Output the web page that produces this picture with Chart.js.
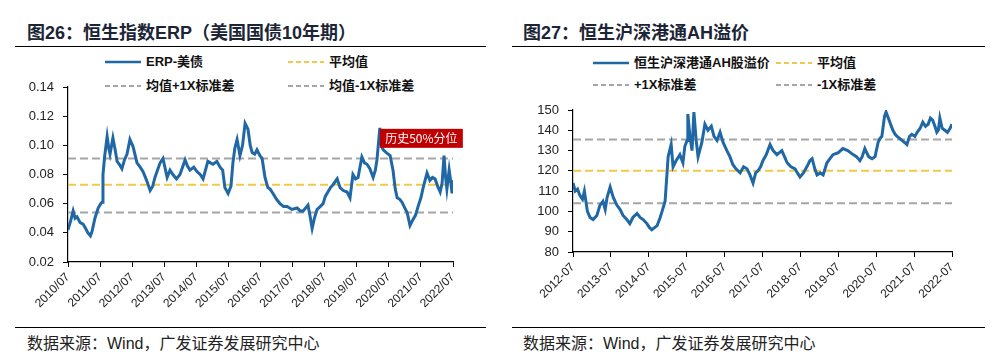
<!DOCTYPE html>
<html lang="zh-CN">
<head>
<meta charset="UTF-8">
<title>恒生指数ERP与AH溢价</title>
<script src="https://cdn.jsdelivr.net/npm/chart.js"></script>
<style>
  body { margin: 0; width: 994px; height: 362px; background: #fff; position: relative; overflow: hidden;
         font-family: "Liberation Sans", Arial, "Noto Sans CJK SC", sans-serif; }
  .title { position: absolute; top: 21px; line-height: 24px; font-size: 18px; font-weight: bold; color: #1c2536; white-space: nowrap; }
  .rule { position: absolute; height: 0; border-top: 1.5px solid #000; }
  .lg { position: absolute; line-height: 16px; font-size: 13px; font-weight: bold; color: #111; white-space: nowrap; }
  .lg svg { vertical-align: middle; margin-right: 5px; position: relative; top: -1px; }
  .src { position: absolute; top: 335px; line-height: 18px; font-size: 16px; color: #222; white-space: nowrap; }
  canvas { position: absolute; top: 60px; }
</style>
</head>
<body>

<div class="title" style="left:27px">图26：恒生指数ERP（美国国债10年期）</div>
<div class="rule" style="left:15px; top:46px; width:471px"></div>
<div class="title" style="left:523px">图27：恒生沪深港通AH溢价</div>
<div class="rule" style="left:512px; top:46px; width:473px"></div>

<div id="legendLeft"></div>
<div id="legendRight"></div>

<canvas id="chartErp" width="497" height="265" style="left:0"></canvas>
<canvas id="chartAh" width="497" height="265" style="left:497px"></canvas>

<div class="rule" style="left:15px; top:327px; width:471px"></div>
<div class="src" style="left:27px">数据来源：Wind，广发证券发展研究中心</div>
<div class="rule" style="left:512px; top:327px; width:473px"></div>
<div class="src" style="left:523px">数据来源：Wind，广发证券发展研究中心</div>

<script>
  // 图26 数据：恒生指数ERP（年份小数，7月 = .5）
  const erpDates = [
    2010.50, 2010.58, 2010.66, 2010.72, 2010.78, 2010.88, 2010.97, 2011.05, 2011.12, 2011.20,
    2011.25, 2011.34, 2011.44, 2011.52, 2011.56, 2011.59, 2011.64, 2011.72, 2011.77, 2011.81,
    2011.90, 2011.97, 2012.03, 2012.10, 2012.18, 2012.26, 2012.34, 2012.43, 2012.53, 2012.65,
    2012.75, 2012.84, 2012.95, 2013.06, 2013.14, 2013.21, 2013.37, 2013.46, 2013.59, 2013.68,
    2013.77, 2013.88, 2013.99, 2014.15, 2014.22, 2014.30, 2014.42, 2014.52, 2014.62, 2014.71,
    2014.86, 2015.02, 2015.14, 2015.24, 2015.32, 2015.39, 2015.49, 2015.58, 2015.64, 2015.70,
    2015.77, 2015.86, 2015.94, 2016.02, 2016.11, 2016.18, 2016.24, 2016.32, 2016.39, 2016.48,
    2016.55, 2016.64, 2016.73, 2016.80, 2016.89, 2017.00, 2017.11, 2017.22, 2017.33, 2017.48,
    2017.64, 2017.74, 2017.83, 2017.98, 2018.04, 2018.11, 2018.18, 2018.26, 2018.36, 2018.45,
    2018.52, 2018.60, 2018.68, 2018.76, 2018.89, 2018.98, 2019.08, 2019.20, 2019.29, 2019.38,
    2019.46, 2019.54, 2019.66, 2019.74, 2019.82, 2019.91, 2020.01, 2020.08, 2020.13, 2020.22,
    2020.27, 2020.32, 2020.42, 2020.54, 2020.63, 2020.70, 2020.76, 2020.84, 2020.91, 2021.00,
    2021.07, 2021.16, 2021.25, 2021.33, 2021.41, 2021.50, 2021.57, 2021.69, 2021.78, 2021.86,
    2021.94, 2022.02, 2022.10, 2022.16, 2022.22, 2022.27, 2022.31, 2022.38, 2022.43, 2022.47,
    2022.50
  ];
  const erpValues = [
    0.042, 0.048, 0.055, 0.050, 0.051, 0.047, 0.046, 0.043, 0.040, 0.038,
    0.041, 0.050, 0.057, 0.060, 0.061, 0.080, 0.092, 0.106, 0.098, 0.094,
    0.105, 0.097, 0.089, 0.087, 0.084, 0.090, 0.094, 0.104, 0.099, 0.088,
    0.085, 0.082, 0.076, 0.069, 0.072, 0.078, 0.088, 0.091, 0.078, 0.083,
    0.080, 0.077, 0.080, 0.090, 0.086, 0.083, 0.085, 0.082, 0.080, 0.077,
    0.089, 0.087, 0.089, 0.085, 0.083, 0.071, 0.067, 0.072, 0.088, 0.098,
    0.104, 0.093, 0.100, 0.115, 0.111, 0.100, 0.095, 0.094, 0.097, 0.093,
    0.091, 0.078, 0.071, 0.070, 0.067, 0.063, 0.060, 0.058, 0.058, 0.056,
    0.057, 0.055, 0.055, 0.059, 0.052, 0.043, 0.050, 0.056, 0.058, 0.060,
    0.065, 0.068, 0.071, 0.073, 0.077, 0.071, 0.069, 0.068, 0.064, 0.080,
    0.077, 0.078, 0.092, 0.088, 0.087, 0.084, 0.078, 0.083, 0.090, 0.112,
    0.100, 0.097, 0.095, 0.093, 0.083, 0.070, 0.064, 0.063, 0.061, 0.057,
    0.054, 0.045, 0.049, 0.052, 0.058, 0.064, 0.071, 0.081, 0.076, 0.078,
    0.077, 0.072, 0.068, 0.074, 0.093, 0.078, 0.070, 0.083, 0.075, 0.067,
    0.076
  ];
  const erpMean = 0.073;
  const erpUpper = 0.091;
  const erpLower = 0.054;
  const erpTickLabels = ['2010/07', '2011/07', '2012/07', '2013/07', '2014/07', '2015/07', '2016/07',
    '2017/07', '2018/07', '2019/07', '2020/07', '2021/07', '2022/07'];
  const erpAnnotDate = 2020.22;
  const erpAnnotText = '历史50%分位';

  // 图27 数据：恒生沪深港通AH股溢价
  const ahDates = [
    2012.50, 2012.56, 2012.62, 2012.68, 2012.75, 2012.80, 2012.88, 2012.95, 2013.03, 2013.13,
    2013.21, 2013.29, 2013.35, 2013.40, 2013.48, 2013.56, 2013.66, 2013.74, 2013.82, 2013.92,
    2014.00, 2014.08, 2014.19, 2014.27, 2014.35, 2014.45, 2014.52, 2014.58, 2014.65, 2014.72,
    2014.80, 2014.85, 2014.93, 2015.01, 2015.09, 2015.14, 2015.22, 2015.32, 2015.40, 2015.45,
    2015.51, 2015.53, 2015.58, 2015.64, 2015.69, 2015.75, 2015.80, 2015.90, 2015.98, 2016.06,
    2016.15, 2016.22, 2016.30, 2016.38, 2016.46, 2016.56, 2016.64, 2016.72, 2016.80, 2016.91,
    2017.00, 2017.09, 2017.17, 2017.25, 2017.32, 2017.38, 2017.45, 2017.51, 2017.60, 2017.70,
    2017.78, 2017.88, 2018.01, 2018.08, 2018.15, 2018.25, 2018.36, 2018.42, 2018.49, 2018.58,
    2018.67, 2018.75, 2018.81, 2018.88, 2018.94, 2019.02, 2019.10, 2019.20, 2019.28, 2019.36,
    2019.50, 2019.62, 2019.75, 2019.89, 2019.98, 2020.07, 2020.13, 2020.20, 2020.30, 2020.39,
    2020.47, 2020.55, 2020.60, 2020.65, 2020.72, 2020.76, 2020.82, 2020.86, 2020.94, 2021.00,
    2021.05, 2021.12, 2021.18, 2021.25, 2021.31, 2021.38, 2021.44, 2021.52, 2021.58, 2021.66,
    2021.73, 2021.80, 2021.87, 2021.93, 2021.99, 2022.05, 2022.10, 2022.14, 2022.18, 2022.24,
    2022.31, 2022.38, 2022.45, 2022.50
  ];
  const ahValues = [
    114, 110, 111, 108, 106, 110, 100, 97, 96, 98,
    103, 105, 101, 107, 112, 107, 103, 101, 98, 96,
    94, 97, 99, 97, 96, 94, 92, 91, 92, 93,
    97, 100, 105, 127, 133, 122, 125, 128, 124, 132,
    135, 148, 138, 130, 149, 135, 127, 134, 143, 140,
    142, 137, 135, 139, 134, 130, 127, 123, 121, 119,
    122, 121, 118, 114, 119, 120, 122, 125, 128, 133,
    130, 128, 130, 127, 124, 122, 121, 119, 117, 119,
    122, 125, 126, 121, 118, 119, 118, 124, 126, 128,
    129, 131, 130, 128, 127, 125, 127, 131, 127, 126,
    127, 134, 136, 137, 147, 149, 146, 144, 140, 138,
    137, 136, 135, 134, 133, 137, 138, 137, 139, 141,
    144, 142, 143, 146, 145, 142, 139, 140, 146, 141,
    140, 139, 141, 143
  ];
  const ahMean = 120;
  const ahUpper = 135.5;
  const ahLower = 104;
  const ahTickLabels = ['2012-07', '2013-07', '2014-07', '2015-07', '2016-07', '2017-07',
    '2018-07', '2019-07', '2020-07', '2021-07', '2022-07'];

  const lineBlue = '#1F67A5';
  const meanYellow = '#F0C94A';
  const sdGray = '#A6A6A6';

  Chart.defaults.font.family = '"Liberation Sans", Arial, "Noto Sans CJK SC", sans-serif';
  Chart.defaults.color = '#222';

  // 图例（两行两列）
  function sample(color, dashed) {
    return '<svg width="36" height="4"><line x1="0" y1="2" x2="36" y2="2" stroke="' + color +
      '" stroke-width="' + (dashed ? 2 : 2.5) + '"' + (dashed ? ' stroke-dasharray="5,3"' : '') + '/></svg>';
  }
  function buildLegend(id, items) {
    document.getElementById(id).innerHTML = items.map(it =>
      '<div class="lg" style="left:' + it.left + 'px; top:' + it.top + 'px">' +
      sample(it.color, it.dashed) + it.text + '</div>').join('');
  }
  buildLegend('legendLeft', [
    { text: 'ERP-美债', color: lineBlue, dashed: false, left: 105, top: 54 },
    { text: '平均值', color: meanYellow, dashed: true, left: 288, top: 54 },
    { text: '均值+1X标准差', color: sdGray, dashed: true, left: 105, top: 78 },
    { text: '均值-1X标准差', color: sdGray, dashed: true, left: 288, top: 78 }
  ]);
  buildLegend('legendRight', [
    { text: '恒生沪深港通AH股溢价', color: lineBlue, dashed: false, left: 593, top: 55 },
    { text: '平均值', color: meanYellow, dashed: true, left: 776, top: 55 },
    { text: '+1X标准差', color: sdGray, dashed: true, left: 593, top: 77 },
    { text: '-1X标准差', color: sdGray, dashed: true, left: 776, top: 77 }
  ]);

  function levelLine(x0, x1, v, color) {
    return {
      data: [{ x: x0, y: v }, { x: x1, y: v }],
      borderColor: color, borderWidth: 2, borderDash: [8, 4],
      pointRadius: 0, order: 2
    };
  }

  function axisOptions(o) {
    return {
      x: {
        type: 'linear', min: o.xMin, max: o.xMax,
        afterBuildTicks: s => { s.ticks = o.tickLabels.map((_, i) => ({ value: o.xMin + i })); },
        afterFit: s => { s.height = o.xHeight; },
        border: { color: '#000', width: 1.2 },
        grid: { drawOnChartArea: false, color: '#000', tickLength: 5 },
        ticks: {
          autoSkip: false, minRotation: 45, maxRotation: 45, padding: 3,
          font: { size: 12 }, color: '#222',
          callback: (v, i) => o.tickLabels[i]
        }
      },
      y: {
        min: o.yMin, max: o.yMax,
        afterFit: s => { s.width = o.yWidth; },
        border: { color: '#000', width: 1.2 },
        grid: { drawOnChartArea: false, color: '#000', tickLength: 5 },
        ticks: {
          stepSize: o.yStep, padding: 9, font: { size: 13 }, color: '#222',
          callback: o.yFormat
        }
      }
    };
  }

  // 标注：历史50%分位
  const annotPlugin = {
    id: 'annot',
    afterDatasetsDraw(chart) {
      const { ctx, scales: { x, y } } = chart;
      const i = erpDates.indexOf(erpAnnotDate);
      const px = x.getPixelForValue(erpDates[i]);
      const py = y.getPixelForValue(erpValues[i]);
      ctx.save();
      ctx.fillStyle = '#C00000';
      ctx.fillRect(px, py + 1, 83, 19);
      ctx.fillStyle = '#fff';
      ctx.font = '12px "Noto Sans CJK SC", sans-serif';
      ctx.textAlign = 'center';
      ctx.textBaseline = 'middle';
      ctx.fillText(erpAnnotText, px + 41.5, py + 11);
      ctx.restore();
    }
  };

  // 图26
  new Chart(document.getElementById('chartErp'), {
    type: 'line',
    data: {
      datasets: [
        {
          data: erpDates.map((d, i) => ({ x: d, y: erpValues[i] })),
          borderColor: lineBlue, borderWidth: 3, pointRadius: 0, order: 1
        },
        levelLine(2010.5, 2022.5, erpMean, meanYellow),
        levelLine(2010.5, 2022.5, erpUpper, sdGray),
        levelLine(2010.5, 2022.5, erpLower, sdGray)
      ]
    },
    options: {
      responsive: false, animation: false,
      layout: { padding: { top: 27, right: 44, left: 0, bottom: 0 } },
      plugins: { legend: { display: false }, tooltip: { enabled: false } },
      scales: axisOptions({
        xMin: 2010.5, xMax: 2022.5, tickLabels: erpTickLabels, xHeight: 63,
        yMin: 0.02, yMax: 0.14, yStep: 0.02, yWidth: 68,
        yFormat: v => v.toFixed(2)
      })
    },
    plugins: [annotPlugin]
  });

  // 图27
  new Chart(document.getElementById('chartAh'), {
    type: 'line',
    data: {
      datasets: [
        {
          data: ahDates.map((d, i) => ({ x: d, y: ahValues[i] })),
          borderColor: lineBlue, borderWidth: 3, pointRadius: 0, order: 1
        },
        levelLine(2012.5, 2022.5, ahMean, meanYellow),
        levelLine(2012.5, 2022.5, ahUpper, sdGray),
        levelLine(2012.5, 2022.5, ahLower, sdGray)
      ]
    },
    options: {
      responsive: false, animation: false,
      layout: { padding: { top: 50, right: 42, left: 0, bottom: 0 } },
      plugins: { legend: { display: false }, tooltip: { enabled: false } },
      scales: axisOptions({
        xMin: 2012.5, xMax: 2022.5, tickLabels: ahTickLabels, xHeight: 73,
        yMin: 80, yMax: 150, yStep: 10, yWidth: 76,
        yFormat: v => v
      })
    }
  });
</script>
</body>
</html>
